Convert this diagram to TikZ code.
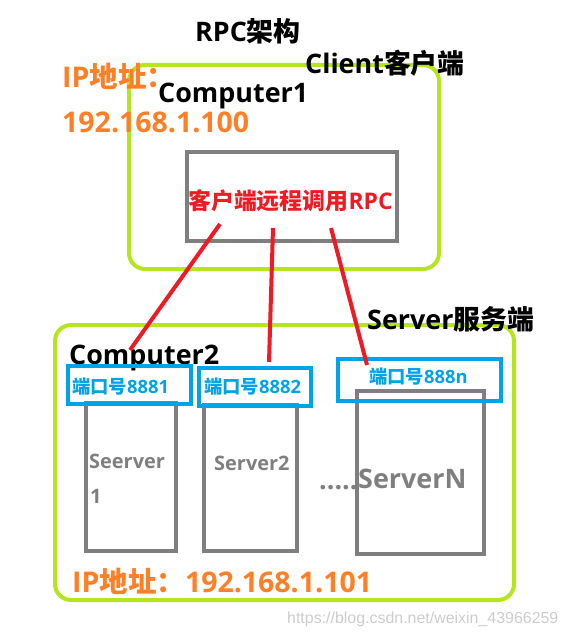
\documentclass[tikz,border=0pt]{standalone}
\usepackage{fontspec}
\setmainfont{Open Sans}
\newfontfamily\cjk{Noto Sans CJK SC}
\newfontfamily\wmfont{Liberation Sans}
\definecolor{limeg}{RGB}{181,230,29}
\definecolor{orng}{RGB}{255,127,39}
\definecolor{rpcred}{RGB}{237,28,36}
\definecolor{portblue}{RGB}{0,162,232}
\definecolor{boxgray}{RGB}{127,127,127}

\begin{document}
\begin{tikzpicture}
[x=1bp,y=-1bp,
hostbox/.style={draw=limeg,line width=4bp,rounded corners=16bp,inner sep=0pt,outer sep=0pt,anchor=north west},
graybox/.style={draw=boxgray,line width=4bp,inner sep=0pt,outer sep=0pt,anchor=north west},
portbox/.style={draw=portblue,line width=4bp,inner sep=0pt,outer sep=0pt,anchor=north west},
txt/.style={inner sep=0pt,anchor=base west,font=\bfseries\fontsize{27}{29}\selectfont},
iptxt/.style={txt,text=orng,font=\bfseries\fontsize{28.6}{30}\selectfont},
porttxt/.style={txt,text=portblue,font=\bfseries\fontsize{18.4}{20}\selectfont},
srvtxt/.style={txt,text=boxgray,font=\bfseries\fontsize{20}{22}\selectfont},
call/.style={draw=rpcred,line width=4bp},]

\useasboundingbox (0,0) rectangle (568,635);

%Title
\node (title) at (195,42)[txt] {RPC{\cjk 架构}};

%Client side
\node (client) at (129,65)[hostbox,minimum width=310bp,minimum height=204bp] {};
\node (clientlbl) at (305,74)[txt] {Client{\cjk 客户端}};
\node (ip1) at (62,88)[iptxt] {IP{\cjk 地址：}};
\node (ipnum1) at (62,133)[iptxt] {192.168.1.100};
\node (comp1) at (158,103)[txt] {Computer1};
\node (rpc) at (186.5,152.5)[graybox,minimum width=210bp,minimum height=88bp] {};
\node (rpclbl) at (188,209)[txt,text=rpcred,font=\bfseries\fontsize{23}{25}\selectfont] {{\cjk 客户端远程调用}RPC};

%Server side
\node (server) at (55,325)[hostbox,minimum width=459bp,minimum height=275bp] {};
\node (serverlbl) at (367,329)[txt] {Server{\cjk 服务端}};
\node (comp2) at (69,364)[txt] {Computer2};

%Servers
\node (s1) at (85.5,402.5)[graybox,minimum width=90bp,minimum height=148bp] {};
\node (s2) at (204,405)[graybox,minimum width=93bp,minimum height=146bp] {};
\node (sn) at (356.5,390.5)[graybox,minimum width=127bp,minimum height=163bp] {};
\node (s1lbl) at (89,468)[srvtxt] {Seerver};
\node (s1num) at (90,503)[srvtxt] {1};
\node (s2lbl) at (214,470)[srvtxt] {Server2};
\node (dots) at (319,489)[srvtxt,font=\bfseries\fontsize{27}{29}\selectfont] {.....};
\node (snlbl) at (358,488)[srvtxt,font=\bfseries\fontsize{27}{29}\selectfont] {ServerN};

%Ports
\node (p1) at (68,366)[portbox,minimum width=122.5bp,minimum height=38bp] {};
\node (p2) at (199,368)[portbox,minimum width=111.5bp,minimum height=38bp] {};
\node (pn) at (338,359)[portbox,minimum width=163bp,minimum height=41.5bp] {};
\node (p1lbl) at (72,393)[porttxt] {{\cjk 端口号}8881};
\node (p2lbl) at (204,393)[porttxt] {{\cjk 端口号}8882};
\node (pnlbl) at (369,383)[porttxt] {{\cjk 端口号}888n};

\node (ip2) at (72,592)[iptxt] {IP{\cjk 地址：}192.168.1.101};

%Calls from client to ports
\coordinate (c1) at (220,224);
\coordinate (c2) at (273,228);
\coordinate (c3) at (331,228);
\coordinate (e1) at (130,350);
\coordinate (e2) at (269,362);
\coordinate (e3) at (367,365);
\draw[call] (c1) -- (e1);
\draw[call] (c2) -- (e2);
\draw[call] (c3) -- (e3);

%Watermark
\node (wm) at (287,623)[inner sep=0pt,anchor=base west,text=black!20,font=\wmfont\fontsize{16}{18}\selectfont] {https://blog.csdn.net/weixin\_43966259};

\end{tikzpicture}
\end{document}
